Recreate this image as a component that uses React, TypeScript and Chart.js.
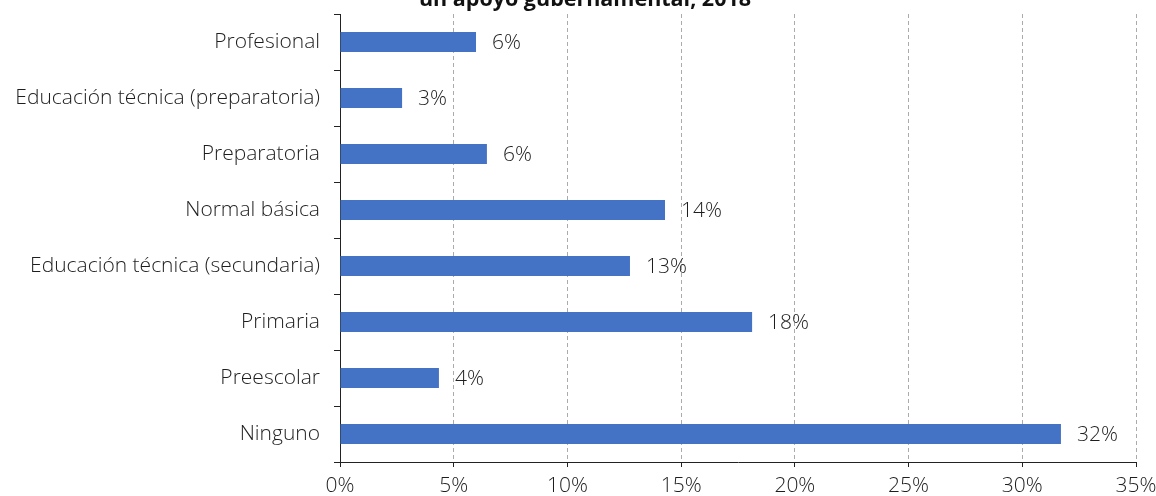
import React, { useEffect, useRef } from "react";
import { Chart, registerables } from "chart.js";

Chart.register(...registerables);

const categories = [
  "Profesional",
  "Educación técnica (preparatoria)",
  "Preparatoria",
  "Normal básica",
  "Educación técnica (secundaria)",
  "Primaria",
  "Preescolar",
  "Ninguno",
];
const values = [5.98, 2.73, 6.46, 14.29, 12.75, 18.12, 4.35, 31.7];
const valueLabels = ["6%", "3%", "6%", "14%", "13%", "18%", "4%", "32%"];
const xTicks = [0, 5, 10, 15, 20, 25, 30, 35];
const titleText = "un apoyo gubernamental, 2018";

const FONT = "'Open Sans', 'Noto Sans', sans-serif";
const SIZE = 21;

export default function App() {
  const ref = useRef<HTMLCanvasElement | null>(null);
  useEffect(() => {
    if (!ref.current) return;
    const labelPlugin = {
      id: "valueLabels",
      afterDatasetsDraw(chart: any) {
        const ctx = chart.ctx;
        const meta = chart.getDatasetMeta(0);
        ctx.save();
        ctx.font = `300 ${SIZE}px ${FONT}`;
        ctx.fillStyle = "#1e1e1e";
        ctx.textAlign = "left";
        ctx.textBaseline = "middle";
        meta.data.forEach((bar: any, i: number) => {
          ctx.fillText(valueLabels[i], bar.x + 16, bar.y + 1);
        });
        ctx.restore();
      },
      afterDraw(chart: any) {
        const ctx = chart.ctx;
        ctx.save();
        ctx.font = `bold 21.5px ${FONT}`;
        ctx.fillStyle = "#111";
        ctx.textAlign = "center";
        ctx.textBaseline = "alphabetic";
        ctx.fillText(titleText, 585, 6);
        ctx.restore();
      },
    };
    const chart = new Chart(ref.current, {
      type: "bar",
      data: {
        labels: categories,
        datasets: [
          {
            data: values,
            backgroundColor: "#4472C4",
            borderWidth: 0,
            barPercentage: 0.36,
            categoryPercentage: 1,
          },
        ],
      },
      options: {
        indexAxis: "y",
        animation: false,
        responsive: false,
        maintainAspectRatio: false,
        layout: { padding: { top: 14, right: 20, left: 0, bottom: 0 } },
        plugins: {
          legend: { display: false },
          tooltip: { enabled: false },
          title: { display: false },
        },
        scales: {
          x: {
            type: "linear",
            min: 0,
            max: 35,
            afterBuildTicks(scale: any) {
              scale.ticks = xTicks.map((v) => ({ value: v }));
            },
            afterFit(scale: any) {
              scale.height = 34;
              scale.paddingLeft = 0;
              scale.paddingRight = 0;
            },
            ticks: {
              callback: (v: any) => `${v}%`,
              font: { family: FONT, size: SIZE, weight: "300" },
              color: "#1e1e1e",
              padding: 6,
              maxRotation: 0,
            },
            grid: {
              color: "#ababab",
              lineWidth: 1,
              drawTicks: true,
              tickLength: 5,
              tickColor: "#222",
              tickBorderDash: [],
            },
            border: { display: true, color: "#222", width: 1, dash: [4, 3] },
          },
          y: {
            type: "category",
            afterFit(scale: any) {
              scale.width = 340;
              scale.paddingTop = 0;
              scale.paddingBottom = 0;
            },
            ticks: {
              font: { family: FONT, size: SIZE, weight: "300" },
              color: "#1e1e1e",
              padding: 14,
            },
            grid: {
              offset: true,
              drawOnChartArea: false,
              drawTicks: true,
              tickLength: 6,
              color: "#222",
              tickColor: "#222",
            },
            border: { display: true, color: "#222", width: 1 },
          },
        },
      },
      plugins: [labelPlugin],
    });
    return () => chart.destroy();
  }, []);
  return (
    <div style={{ position: "absolute", left: 0, top: 0, width: 1156, height: 496 }}>
      <canvas ref={ref} width={1156} height={496} style={{ width: 1156, height: 496 }} />
    </div>
  );
}
